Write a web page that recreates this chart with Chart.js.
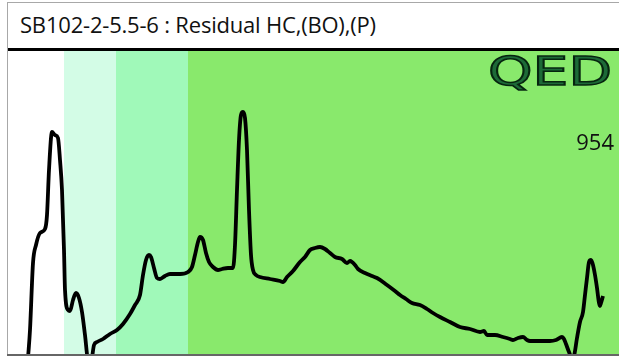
<!DOCTYPE html>
<html>
<head>
<meta charset="utf-8">
<script src="https://cdn.jsdelivr.net/npm/chart.js@4/dist/chart.umd.min.js"></script>
<style>
  body { margin: 0; background: #fff; }
  #frame { position: relative; width: 619px; height: 360px; overflow: hidden; background: #fff; }
  #outer { position: absolute; left: 7px; top: 2px; width: 620px; height: 354px; border-left: 1.5px solid #a8a8a8; border-top: 1.5px solid #a8a8a8; box-sizing: border-box; }
  #title { position: absolute; left: 20px; top: 9px; font-family: 'Open Sans', sans-serif; font-size: 22px; color: #111; white-space: nowrap; letter-spacing: -0.2px; }
  #topline { position: absolute; left: 8px; top: 48px; width: 611px; height: 2.5px; background: #000; }
  #bottomline { position: absolute; left: 7px; top: 354px; width: 612px; height: 2px; background: #666; }
  #plot { position: absolute; left: 9px; top: 50px; width: 610px; height: 304px; }
</style>
</head>
<body>
<div id="frame">
  <div id="outer"></div>
  <div id="title">SB102-2-5.5-6 : Residual HC,(BO),(P)</div>
  <div id="plot"><canvas id="chart" width="610" height="304"></canvas></div>
  <div id="topline"></div>
  <div id="bottomline"></div>
</div>
<script>
// trace (x along the run, y = signal height)
const traceX = [19,21,24,27,31,36,38,40,43,46,49,51,53,55,56,59,61,64,67,70,73,76,79,82,85,88,94,101,108,114,121,126,131,134,137,140,142,145,148,151,156,161,171,179,183,186,189,191,194,197,200,204,209,213,219,224,226,228,230,232,234,236,238,240,242,244,247,251,261,271,274,278,284,291,296,301,306,311,316,321,326,333,338,341,343,346,349,356,363,368,378,386,391,397,403,411,418,424,431,441,451,461,471,475,478,486,494,501,504,509,514,518,521,531,541,547,553,555,557,560,563,565,568,571,574,576,578,580,582,584,586,588,590,591,592,594];
const traceY = [-4,24,91,109,121,125,139,184,222,219,216,194,164,104,64,44,43,54,61,56,42,19,-6,-8,9,12,15,20,24,30,40,49,59,79,94,99,97,86,76,75,78,80,80,82,87,99,112,117,114,101,92,87,84,85,86,86,109,164,214,239,242,236,204,144,99,84,79,77,75,73,72,77,83,92,97,104,106,107,105,101,97,95,91,93,92,89,85,81,78,76,69,63,59,55,51,49,45,41,37,32,27,25,22,23,19,19,17,15,14,16,17,14,13,13,13,14,17,15,10,2,-4,-2,16,32,42,59,76,92,94,89,79,66,51,48,51,58];

// retention bands (left edge, right edge, colour)
const bandStart = [0, 55, 107, 179];
const bandEnd = [55, 107, 179, 610];
const bandColors = ['#ffffff', '#d3fce6', '#a0f9b9', '#89e96c'];

const sampleNumber = '954';

const bandsPlugin = {
  id: 'bands',
  beforeDatasetsDraw(chart) {
    const { ctx, chartArea, scales } = chart;
    ctx.save();
    bandStart.forEach((s, i) => {
      const x0 = scales.x.getPixelForValue(s);
      const x1 = scales.x.getPixelForValue(bandEnd[i]);
      ctx.fillStyle = bandColors[i];
      ctx.fillRect(x0, chartArea.top, x1 - x0, chartArea.bottom - chartArea.top);
    });
    ctx.restore();
  },
  afterDatasetsDraw(chart) {
    const { ctx, chartArea } = chart;
    ctx.save();
    // sample label
    ctx.fillStyle = '#111';
    ctx.font = '22px "Open Sans", sans-serif';
    ctx.textAlign = 'right';
    ctx.textBaseline = 'middle';
    ctx.fillText(sampleNumber, chartArea.right - 5, chartArea.top + 94);
    // QED logo
    ctx.font = '39px "DejaVu Sans", sans-serif';
    const w = ctx.measureText('QED').width;
    const sx = 124 / w;
    ctx.translate(chartArea.right - 131, chartArea.top + 35);
    ctx.scale(sx, 1);
    ctx.textAlign = 'left';
    ctx.textBaseline = 'alphabetic';
    ctx.lineWidth = 1.5;
    ctx.strokeStyle = '#06240f';
    ctx.fillStyle = '#1d6a37';
    ctx.fillText('QED', 0, 0);
    ctx.strokeText('QED', 0, 0);
    ctx.restore();
  }
};

new Chart(document.getElementById('chart'), {
  type: 'line',
  data: {
    datasets: [{
      data: traceX.map((x, i) => ({ x: x, y: traceY[i] })),
      borderColor: '#000',
      borderWidth: 3.8,
      pointRadius: 0,
      cubicInterpolationMode: 'monotone',
      fill: false
    }]
  },
  options: {
    responsive: false,
    maintainAspectRatio: false,
    animation: false,
    layout: { padding: 0 },
    plugins: { legend: { display: false }, tooltip: { enabled: false } },
    scales: {
      x: { type: 'linear', min: 0, max: 610, display: false },
      y: { min: 0, max: 304, display: false }
    }
  },
  plugins: [bandsPlugin]
});
</script>
</body>
</html>
